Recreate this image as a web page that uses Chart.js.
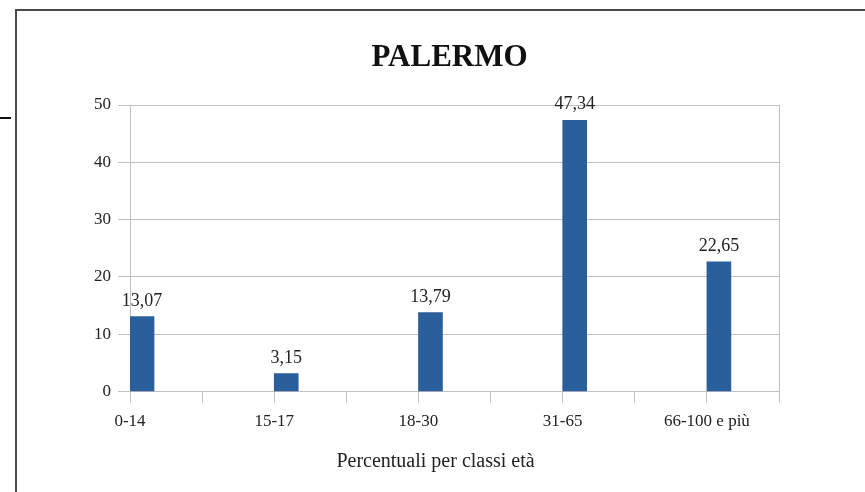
<!DOCTYPE html>
<html>
<head>
<meta charset="utf-8">
<script src="https://cdn.jsdelivr.net/npm/chart.js@4"></script>
<style>
  html, body { margin: 0; padding: 0; background: #fff; overflow: hidden; }
  #frame { position: absolute; left: 15px; top: 9px; width: 1000px; height: 1000px;
           border-left: 2px solid #4a4a4a; border-top: 2px solid #4a4a4a; }
  #stub { position: absolute; left: 0; top: 117px; width: 11px; height: 2px; background: #111; }
  #wrap { position: absolute; left: 0; top: 0; width: 865px; height: 492px; }
</style>
</head>
<body>
<div id="frame"></div>
<div id="stub"></div>
<div id="wrap"><canvas id="chart"></canvas></div>
<script>
document.addEventListener('DOMContentLoaded', function() {
  // age classes and percentages
  const categories = ['0-14', '15-17', '18-30', '31-65', '66-100 e più'];
  const percentages = [13.07, 3.15, 13.79, 47.34, 22.65];
  const yTicks = [0, 10, 20, 30, 40, 50];
  const chartTitle = 'PALERMO';
  const xTitle = 'Percentuali per classi età';

  const gridColor = '#c0c0c0';
  const textColor = '#222';
  const serif = 'Liberation Serif';

  // every category takes two slots on the x axis, bar sits right of its tick
  const points = percentages.map((v, i) => ({ x: i * 2 + 1 / 6, y: v }));

  // value labels over the bars (decimal comma), chart title and x axis title.
  // both titles are off the plot centre in the original, so they are drawn here
  const extraText = {
    id: 'extraText',
    afterDatasetsDraw(chart) {
      const ctx = chart.ctx;
      const meta = chart.getDatasetMeta(0);
      const area = chart.chartArea;
      const mid = (area.left + area.right) / 2;
      ctx.save();
      ctx.fillStyle = textColor;
      ctx.textAlign = 'center';
      ctx.textBaseline = 'alphabetic';
      ctx.font = '18px "' + serif + '"';
      meta.data.forEach((bar, i) => {
        ctx.fillText(percentages[i].toFixed(2).replace('.', ','), bar.x, bar.y - 11);
      });
      ctx.textBaseline = 'middle';
      ctx.font = '20px "' + serif + '"';
      ctx.fillText(xTitle, mid - 19, area.bottom + 70);
      ctx.fillStyle = '#111';
      ctx.font = 'bold 31px "' + serif + '"';
      ctx.fillText(chartTitle, mid - 5, area.top - 47);
      ctx.restore();
    }
  };

  new Chart(document.getElementById('chart'), {
    type: 'bar',
    data: {
      datasets: [{
        data: points,
        backgroundColor: '#2b5f9b',
        borderWidth: 0,
        barThickness: 24
      }]
    },
    options: {
      responsive: true,
      maintainAspectRatio: false,
      animation: false,
      layout: { padding: { left: 0, right: 86, top: 105, bottom: 51 } },
      plugins: {
        legend: { display: false },
        tooltip: { enabled: false },
        title: { display: false }
      },
      scales: {
        x: {
          type: 'linear',
          min: 0,
          max: categories.length * 2 - 1,
          offset: false,
          grid: {
            offset: false,
            drawOnChartArea: true,
            color: ctx => (ctx.tick && ctx.tick.value === categories.length * 2 - 1) ? gridColor : 'rgba(0,0,0,0)',
            tickColor: gridColor,
            tickLength: 11
          },
          border: { display: true, color: gridColor },
          ticks: {
            stepSize: 1,
            autoSkip: false,
            maxRotation: 0,
            padding: 9,
            color: textColor,
            font: { family: serif, size: 17 },
            callback: v => (v % 2 === 0 ? categories[v / 2] : '')
          }
        },
        y: {
          min: 0,
          max: yTicks[yTicks.length - 1],
          afterBuildTicks: scale => { scale.ticks = yTicks.map(v => ({ value: v })); },
          afterFit: scale => { scale.width = 130; },
          grid: { color: gridColor, tickLength: 12 },
          border: { display: true, color: gridColor },
          ticks: {
            padding: 7,
            color: textColor,
            font: { family: serif, size: 17 }
          }
        }
      }
    },
    plugins: [extraText]
  });
});
</script>
</body>
</html>
